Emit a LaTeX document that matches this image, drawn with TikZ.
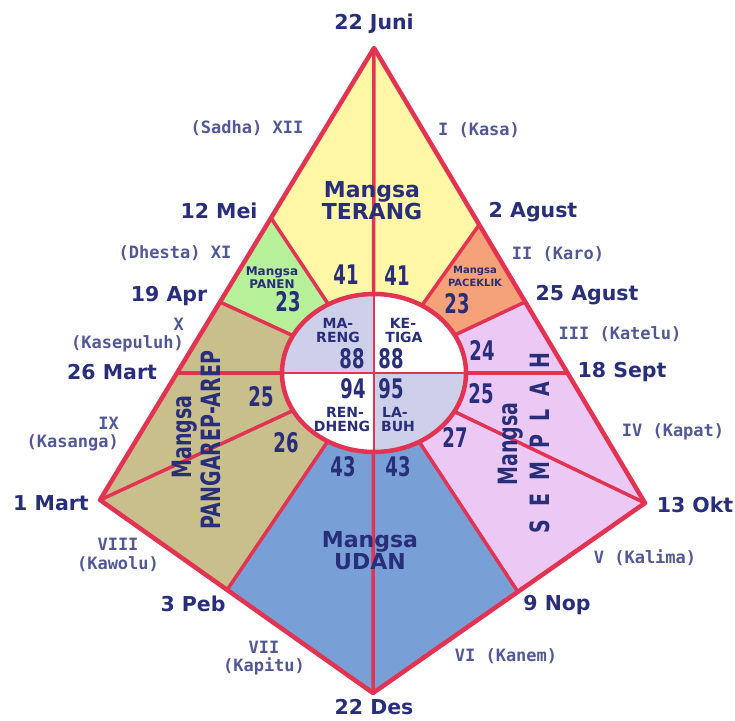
\documentclass[tikz,border=0pt]{standalone}
\usepackage{fontspec}
\setmainfont{DejaVu Sans}
\newfontfamily\romfont{DejaVu Sans Mono}
\usetikzlibrary{positioning}

\definecolor{kred}{RGB}{226,52,82}
\definecolor{navy}{RGB}{40,46,122}
\definecolor{romgrey}{RGB}{82,88,150}
\definecolor{terang}{RGB}{255,247,166}
\definecolor{panen}{RGB}{182,240,152}
\definecolor{paceklik}{RGB}{245,162,122}
\definecolor{pangarep}{RGB}{201,191,140}
\definecolor{semplah}{RGB}{236,200,245}
\definecolor{udan}{RGB}{121,160,214}
\definecolor{quad}{RGB}{206,208,233}

\newcommand\tall[1]{\scalebox{1}[1.5]{#1}}
\newcommand\tallish[1]{\scalebox{1}[1.4]{#1}}

\begin{document}
\begin{tikzpicture}[x=1pt, y=-1pt,
    edge/.style={draw=kred, line width=4.5pt, line join=round},
    spoke/.style={draw=kred, line width=3.5pt},
    cross/.style={draw=kred, line width=2pt},
    date/.style={font=\fontsize{20.5}{22}\selectfont\bfseries, text=navy, inner sep=0pt},
    month/.style={font=\romfont\fontsize{17}{18.5}\selectfont\bfseries, text=romgrey, inner sep=0pt, align=center},
    season/.style={font=\fontsize{22}{22}\selectfont\bfseries, text=navy, align=center, inner sep=0pt},
    upright/.style={font=\fontsize{19}{19}\selectfont\bfseries, text=navy, inner sep=0pt, rotate=90},
    num/.style={font=\fontsize{18}{18}\selectfont\bfseries, text=navy, inner sep=0pt},
    quarter/.style={font=\fontsize{14}{15}\selectfont\bfseries, text=navy, inner sep=0pt},
    small/.style={font=\bfseries, text=navy, inner sep=0pt, align=center}
]
\useasboundingbox (0,0) rectangle (735,720);

% Corners and dates on the edges
\coordinate (juni) at (374,48);
\coordinate (mei) at (271,218);
\coordinate (apr) at (220,302);
\coordinate (mart26) at (177,373);
\coordinate (mart1) at (100,500);
\coordinate (peb) at (227,590);
\coordinate (des) at (373,693);
\coordinate (nop) at (518,592);
\coordinate (okt) at (645,503);
\coordinate (sept) at (568,373);
\coordinate (agust25) at (525,302);
\coordinate (agust2) at (479,225);
\coordinate (c) at (374,373);
\coordinate (etop) at (374,294);
\coordinate (ebot) at (374,452);
\coordinate (eleft) at (282,373);
\coordinate (eright) at (466,373);

% Seasons
\fill[terang] (juni) -- (agust2) -- (c) -- (mei) -- cycle;
\fill[paceklik] (agust2) -- (agust25) -- (c) -- cycle;
\fill[semplah] (agust25) -- (okt) -- (nop) -- (c) -- cycle;
\fill[udan] (nop) -- (des) -- (peb) -- (c) -- cycle;
\fill[pangarep] (peb) -- (mart1) -- (apr) -- (c) -- cycle;
\fill[panen] (apr) -- (mei) -- (c) -- cycle;

% Spokes
\foreach \p in {mei, apr, mart1, peb, nop, okt, agust25, agust2}
    \draw[spoke] (\p) -- (c);
\draw[spoke] (juni) -- (des);
\draw[spoke] (mart26) -- (sept);

% Middle ellipse
\fill[white] (c) ellipse [x radius=92, y radius=79];
\begin{scope}
    \clip (c) rectangle (270,285);
    \fill[quad] (c) ellipse [x radius=92, y radius=79];
\end{scope}
\begin{scope}
    \clip (c) rectangle (480,465);
    \fill[quad] (c) ellipse [x radius=92, y radius=79];
\end{scope}
\draw[cross] (etop) -- (ebot);
\draw[cross] (eleft) -- (eright);
\draw[edge] (c) ellipse [x radius=92, y radius=79];

% Outline
\draw[edge] (juni) -- (okt) -- (des) -- (mart1) -- cycle;

% Dates
\node[date] (ljuni) at (374,24) {22 Juni};
\node[date] (lmei) at (219,211) {12 Mei};
\node[date] (lapr) at (169,296) {19 Apr};
\node[date] (lmart26) at (112,372) {26 Mart};
\node[date] (lmart1) at (51,503) {1 Mart};
\node[date] (lpeb) at (193,604) {3 Peb};
\node[date] (ldes) at (374,707) {22 Des};
\node[date] (lnop) at (557,605) {9 Nop};
\node[date] (lokt) at (695,505) {13 Okt};
\node[date] (lsept) at (622,372) {18 Sept};
\node[date] (lagust25) at (587,295) {25 Agust};
\node[date] (lagust2) at (533,212) {2 Agust};

% Months
\node[month] (m1) at (479,130) {I (Kasa)};
\node[month] (m2) at (558,254) {II (Karo)};
\node[month] (m3) at (620,334) {III (Katelu)};
\node[month] (m4) at (673,432) {IV (Kapat)};
\node[month] (m5) at (645,558) {V (Kalima)};
\node[month] (m6) at (506,656) {VI (Kanem)};
\node[month] (m7) at (264,658) {VII\\(Kapitu)};
\node[month] (m8) at (118,555) {VIII\\(Kawolu)};
\node[month, align=right, anchor=east] (m9) at (119,434) {IX\\(Kasanga)};
\node[month, align=right, anchor=east] (m10) at (184,335) {X\\(Kasepuluh)};
\node[month] (m11) at (175,253) {(Dhesta) XI};
\node[month] (m12) at (247,128) {(Sadha) XII};

% Season names
\node[season] (sterang) at (372,201) {Mangsa\\TERANG};
\node[season] (sudan) at (370,551) {Mangsa\\UDAN};
\node[small, font=\fontsize{12}{13}\selectfont\bfseries] (spanen) at (272,278) {Mangsa\\PANEN};
\node[small, font=\fontsize{10}{13}\selectfont\bfseries] (spaceklik) at (475,276) {Mangsa\\PACEKLIK};
\node[upright] (sp1) at (185,437) {\tallish{Mangsa}};
\node[upright] (sp2) at (211,440) {\tallish{PANGAREP-AREP}};
\node[upright] (ss1) at (511,444) {\tallish{Mangsa}};
\node[upright] (ss2) at (540,443) {\tallish{\spaceskip=13pt S E M P L A H}};

% Day counts
\node[num] (n41a) at (346,275) {\tall{41}};
\node[num] (n41b) at (397,276) {\tall{41}};
\node[num] (n23a) at (288,302) {\tall{23}};
\node[num] (n23b) at (457,304) {\tall{23}};
\node[num] (n24) at (482,350) {\tall{24}};
\node[num] (n25b) at (481,394) {\tall{25}};
\node[num] (n27) at (455,437) {\tall{27}};
\node[num] (n43a) at (343,467) {\tall{43}};
\node[num] (n43b) at (398,467) {\tall{43}};
\node[num] (n26) at (286,443) {\tall{26}};
\node[num] (n25a) at (261,397) {\tall{25}};

% Inside the ellipse
\node[quarter] (ma) at (338,323) {MA-};
\node[quarter] (reng) at (338,337) {RENG};
\node[num] (n88a) at (352,359) {\tall{88}};
\node[quarter] (ke) at (403,323) {KE-};
\node[quarter] (tiga) at (404,337) {TIGA};
\node[num] (n88b) at (391,359) {\tall{88}};
\node[num] (n94) at (353,389) {\tall{94}};
\node[num] (n95) at (391,389) {\tall{95}};
\node[quarter] (ren) at (345,412) {REN-};
\node[quarter] (dheng) at (342,426) {DHENG};
\node[quarter] (la) at (395,412) {LA-};
\node[quarter] (buh) at (398,426) {BUH};

\end{tikzpicture}
\end{document}
